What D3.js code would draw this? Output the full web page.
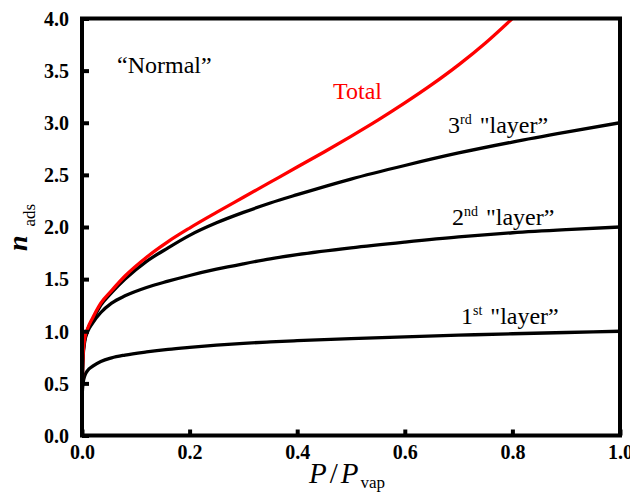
<!DOCTYPE html>
<html>
<head>
<meta charset="utf-8">
<script src="https://cdn.jsdelivr.net/npm/d3@7"></script>
<style>
  html, body { margin: 0; padding: 0; background: #fff; }
  svg { display: block; }
  text { font-family: "Liberation Serif", "Times New Roman", serif; }
</style>
</head>
<body>
<svg id="chart" width="630" height="501"></svg>
<script>
// ---- data ----
const pressure = [0, 0.0005, 0.002, 0.005, 0.01, 0.02, 0.035, 0.055, 0.08, 0.12, 0.16, 0.2, 0.25, 0.3, 0.35, 0.4, 0.5, 0.6, 0.7, 0.8, 0.9, 1.0];
const layer1 = [0, 0.40, 0.50, 0.57, 0.62, 0.665, 0.71, 0.745, 0.772, 0.802, 0.826, 0.845, 0.866, 0.884, 0.898, 0.91, 0.93, 0.947, 0.962, 0.976, 0.988, 1.0];
const layer2 = [0, 0.45, 0.75, 0.90, 0.99, 1.08, 1.18, 1.27, 1.34, 1.42, 1.48, 1.535, 1.595, 1.647, 1.695, 1.735, 1.80, 1.855, 1.905, 1.945, 1.975, 2.0];
const layer3 = [0, 0.45, 0.77, 0.92, 1.01, 1.11, 1.25, 1.37, 1.50, 1.67, 1.80, 1.92, 2.04, 2.14, 2.23, 2.31, 2.46, 2.59, 2.71, 2.815, 2.91, 3.0];
const totalPressure = [0, 0.0005, 0.002, 0.005, 0.01, 0.02, 0.035, 0.055, 0.08, 0.12, 0.16, 0.2, 0.25, 0.3, 0.35, 0.4, 0.45, 0.5, 0.55, 0.6, 0.65, 0.7, 0.75, 0.8];
const totalValues = [0, 0.45, 0.77, 0.93, 1.02, 1.13, 1.27, 1.39, 1.53, 1.71, 1.86, 1.99, 2.14, 2.285, 2.43, 2.575, 2.72, 2.87, 3.025, 3.19, 3.365, 3.555, 3.765, 4.0];
const xTicks = [0, 0.2, 0.4, 0.6, 0.8, 1.0];
const yTicks = [0, 0.5, 1.0, 1.5, 2.0, 2.5, 3.0, 3.5, 4.0];

// ---- layout ----
const svg = d3.select("#chart");
const pLeft = 82, pRight = 620, pTop = 18.5, pBottom = 435.5;
const x = d3.scaleLinear().domain([0, 1]).range([pLeft, pRight]);
const y = d3.scaleLinear().domain([0, 4]).range([pBottom, pTop]);

svg.append("defs").append("clipPath").attr("id", "plotclip")
  .append("rect").attr("x", pLeft).attr("y", pTop).attr("width", pRight - pLeft).attr("height", pBottom - pTop);

const line = d3.line().x(d => x(d[0])).y(d => y(d[1])).curve(d3.curveMonotoneX);

const plot = svg.append("g").attr("clip-path", "url(#plotclip)");
[layer1, layer2, layer3].forEach(vals => {
  plot.append("path")
    .datum(pressure.map((p, i) => [p, vals[i]]))
    .attr("d", line)
    .attr("fill", "none")
    .attr("stroke", "#000")
    .attr("stroke-width", 3.3)
    .attr("stroke-linejoin", "round");
});
plot.append("path")
  .datum(totalPressure.map((p, i) => [p, totalValues[i]]))
  .attr("d", line)
  .attr("fill", "none")
  .attr("stroke", "#ff0000")
  .attr("stroke-width", 3.3)
  .attr("stroke-linejoin", "round");

// axes
const xAxis = d3.axisBottom(x).tickValues(xTicks).tickFormat(d3.format(".1f")).tickSizeInner(-6).tickSizeOuter(0).tickPadding(9);
const yAxis = d3.axisLeft(y).tickValues(yTicks).tickFormat(d3.format(".1f")).tickSizeInner(-7).tickSizeOuter(0).tickPadding(13);

const gx = svg.append("g").attr("transform", `translate(0,${pBottom})`).call(xAxis);
const gy = svg.append("g").attr("transform", `translate(${pLeft},0)`).call(yAxis);
[gx, gy].forEach(g => {
  g.select(".domain").remove();
  g.selectAll(".tick line").attr("stroke", "#000").attr("stroke-width", 4);
  g.selectAll(".tick text")
    .attr("fill", "#000")
    .style("font-family", "'Liberation Serif', 'Times New Roman', serif")
    .style("font-weight", "bold")
    .style("font-size", "20px");
});
gy.selectAll(".tick text").attr("dy", "0.34em");

// frame
svg.append("rect")
  .attr("x", pLeft).attr("y", pTop)
  .attr("width", pRight - pLeft).attr("height", pBottom - pTop)
  .attr("fill", "none").attr("stroke", "#000").attr("stroke-width", 4);

// axis titles
const xt = svg.append("text").attr("x", 309).attr("y", 483)
  .style("font-size", "29px");
xt.append("tspan").style("font-style", "italic").text("P");
xt.append("tspan").attr("dx", 3).text("/");
xt.append("tspan").attr("dx", 3).style("font-style", "italic").text("P");
xt.append("tspan").attr("dx", 2).attr("dy", 5).style("font-size", "17px").text("vap");

const yt = svg.append("text").attr("transform", "translate(27,251) rotate(-90)")
  .style("font-size", "28px");
yt.append("tspan").style("font-style", "italic").style("font-weight", "bold").text("n");
yt.append("tspan").attr("dx", 9).attr("dy", 8).style("font-size", "17px").text("ads");

// annotations
svg.append("text").attr("x", 117).attr("y", 73).style("font-size", "24px").text("\u201CNormal\u201D");
svg.append("text").attr("x", 333).attr("y", 99).style("font-size", "24px").attr("fill", "#ff0000").text("Total");

function layerLabel(xp, yp, num, sup) {
  const t = svg.append("text").attr("x", xp).attr("y", yp).style("font-size", "24px");
  t.append("tspan").text(num);
  t.append("tspan").attr("dy", -9).style("font-size", "14px").text(sup);
  t.append("tspan").attr("dy", 9).attr("dx", 2).text(" \"layer\u201D");
}
layerLabel(448, 133, "3", "rd");
layerLabel(452, 225, "2", "nd");
layerLabel(461, 324, "1", "st");
</script>
</body>
</html>
